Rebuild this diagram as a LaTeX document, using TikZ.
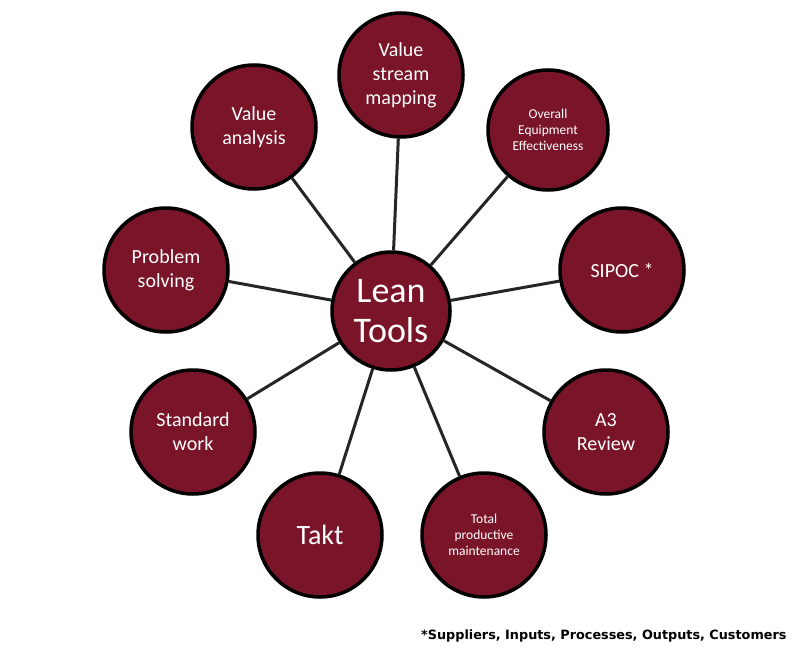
\documentclass[tikz,border=0pt]{standalone}
\usepackage{fontspec}
\setmainfont{Carlito}
\newfontfamily\notefont{DejaVu Sans}
\definecolor{lred}{HTML}{7A1428}
\begin{document}
\begin{tikzpicture}[x=1pt,y=-1pt,
  tool/.style={circle,draw=black,line width=3.5pt,fill=lred,text=white,minimum size=124pt,inner sep=0pt,align=center,font=\fontsize{20}{24}\selectfont},
  small/.style={font=\fontsize{13.5}{16}\selectfont},
  link/.style={line width=3pt,draw=black!85}]
\useasboundingbox (0,0) rectangle (800,650);
\node[tool,minimum size=118pt,font=\fontsize{36}{40}\selectfont] (c) at (391,311) {Lean\\Tools};
\node[tool] (vsm) at (401,75) {Value\\stream\\mapping};
\node[tool] (va) at (254,127) {Value\\analysis};
\node[tool,minimum size=120pt,small] (oee) at (548,130) {Overall\\Equipment\\Effectiveness};
\node[tool] (ps) at (166,270) {Problem\\solving};
\node[tool] (sipoc) at (622,270) {SIPOC *};
\node[tool] (sw) at (193,432) {Standard\\work};
\node[tool] (a3) at (606,432) {A3\\Review};
\node[tool,font=\fontsize{28}{32}\selectfont] (takt) at (320,535) {Takt};
\node[tool,small] (tpm) at (484,535) {Total\\productive\\maintenance};
\foreach \n in {vsm,va,oee,ps,sipoc,sw,a3,takt,tpm} \draw[link] (c) -- (\n);
\node[anchor=east,font=\notefont\bfseries\fontsize{12.8}{15}\selectfont] (note) at (790,636) {*Suppliers, Inputs, Processes, Outputs, Customers};
\end{tikzpicture}
\end{document}
